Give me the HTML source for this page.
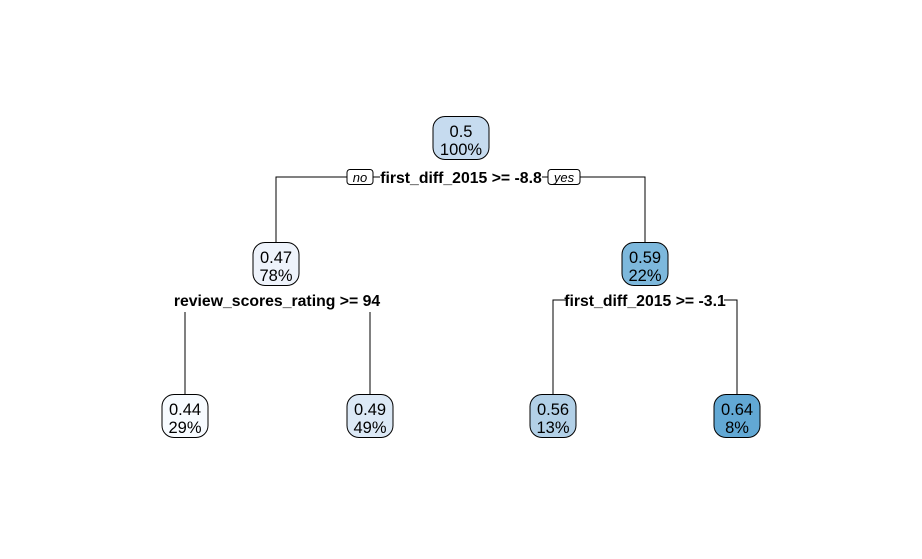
<!DOCTYPE html>
<html><head><meta charset="utf-8"><style>
body{margin:0;background:#fff}
svg{display:block;font-family:"Liberation Sans",Arial,sans-serif}
</style></head><body>
<svg id="tree" width="922" height="559"></svg>
<script>
const nodeValues=["0.5","0.47","0.59","0.44","0.49","0.56","0.64"];
const nodePercents=["100%","78%","22%","29%","49%","13%","8%"];
const nodeFills=["#c6dbef","#eef3fb","#7db8dc","#f7fbff","#dce9f6","#b2d0e7","#62a8d4"];
const splitLabels=["first_diff_2015 >= -8.8","review_scores_rating >= 94","first_diff_2015 >= -3.1"];
// layout
const nx=[461,276,645,185,370,553,737];
const ny=[138,264,264,416,416,416,416];
const NS="http://www.w3.org/2000/svg";
const svg=document.getElementById('tree');
function mk(t,a,p){const e=document.createElementNS(NS,t);for(const k in a)e.setAttribute(k,a[k]);(p||svg).appendChild(e);return e;}
let l;
l=mk('path',{d:'M276 242V177H347M373 177H380M542 177H548M580 177H645V242',stroke:'#000',fill:'none'});


l=mk('path',{d:'M185 312V395M370 312V395',stroke:'#000',fill:'none'});


l=mk('path',{d:'M553 395V300H566M724 300H737V395',stroke:'#000',fill:'none'});


const tags=[["no",347,373],["yes",548,580]];
tags.forEach(t=>{
 const g=mk('g',{});
 
 
 mk('rect',{x:t[1],y:169.5,width:t[2]-t[1],height:15,rx:3,fill:'#fff',stroke:'#000'},g);
 const tx=mk('text',{x:(t[1]+t[2])/2,y:182,'text-anchor':'middle','font-size':13,'font-style':'italic'},g);tx.textContent=t[0];
});
const splitPos=[[461,183],[277,306],[645,306]];
splitLabels.forEach((s,i)=>{
 const t=mk('text',{x:splitPos[i][0],y:splitPos[i][1],'text-anchor':'middle','font-size':15.8,'font-weight':'bold'});
 t.textContent=s;
 
 
});
nodeValues.forEach((v,i)=>{
 const g=mk('g',{});
 
 
 const w=i===0?56:46;
 mk('rect',{x:nx[i]-w/2,y:ny[i]-21.5,width:w,height:43,rx:12,fill:nodeFills[i],stroke:'#000'},g);
 let t=mk('text',{x:nx[i],y:ny[i]-1,'text-anchor':'middle','font-size':16.5},g);t.textContent=v;
 t=mk('text',{x:nx[i],y:ny[i]+17,'text-anchor':'middle','font-size':16.5},g);t.textContent=nodePercents[i];
});
</script>
</body></html>
